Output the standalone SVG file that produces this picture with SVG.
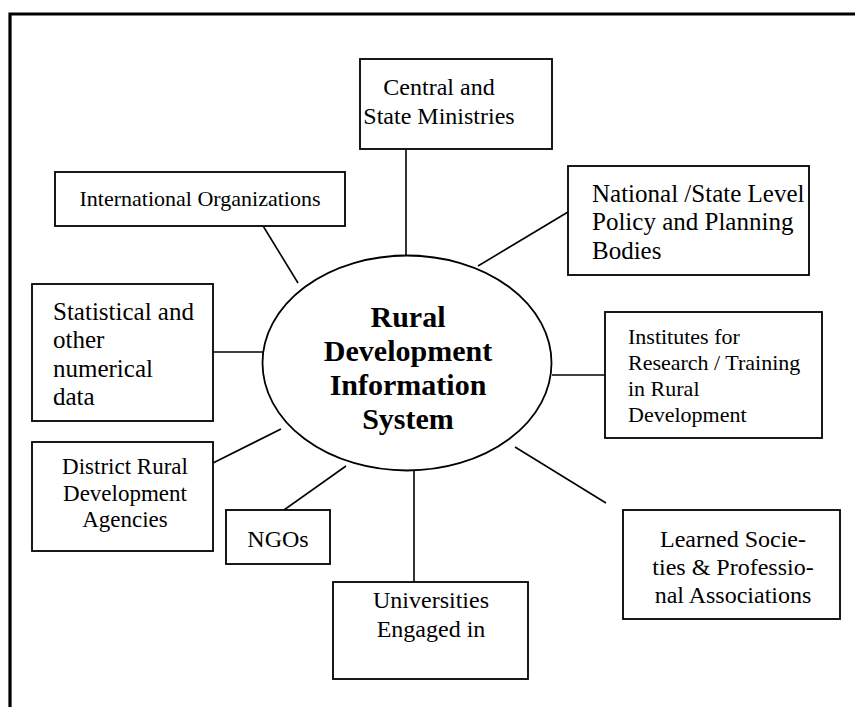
<svg xmlns="http://www.w3.org/2000/svg" width="855" height="707" viewBox="0 0 855 707">
  <defs>
    <style>
      .box { fill: #fff; stroke: #000; stroke-width: 1.8; }
      .link { stroke: #000; stroke-width: 1.6; fill: none; }
    </style>
  </defs>
  <rect x="0" y="0" width="855" height="707" fill="#fff"/>
  <!-- page frame -->
  <polyline points="10,707 10,14 855,14" fill="none" stroke="#000" stroke-width="3.2"/>

  <g id="connectors">
    <line class="link" x1="406" y1="149" x2="406" y2="266"/>
    <line class="link" x1="257" y1="216" x2="298" y2="283"/>
    <line class="link" x1="478" y1="266" x2="568" y2="212"/>
    <line class="link" x1="213" y1="352" x2="267" y2="352"/>
    <line class="link" x1="552" y1="375" x2="605" y2="375"/>
    <line class="link" x1="213" y1="463" x2="281" y2="429"/>
    <line class="link" x1="284" y1="510" x2="346" y2="466"/>
    <line class="link" x1="414" y1="470" x2="414" y2="582"/>
    <line class="link" x1="515" y1="447" x2="606" y2="503"/>
  </g>

  <g id="hub">
    <ellipse cx="407" cy="363" rx="144.5" ry="107.5" fill="#fff" stroke="#000" stroke-width="1.8"/>
    <text style="font-family: 'Liberation Serif', serif; font-weight: bold; font-size: 30px" text-anchor="middle" x="408" y="327">Rural</text>
    <text style="font-family: 'Liberation Serif', serif; font-weight: bold; font-size: 30px" text-anchor="middle" x="408" y="361">Development</text>
    <text style="font-family: 'Liberation Serif', serif; font-weight: bold; font-size: 30px" text-anchor="middle" x="408" y="395">Information</text>
    <text style="font-family: 'Liberation Serif', serif; font-weight: bold; font-size: 30px" text-anchor="middle" x="408" y="429">System</text>
  </g>

  <g id="ministries">
    <rect class="box" x="360" y="59" width="192" height="90"/>
    <text style="font-family: 'Liberation Serif', serif; font-size: 24px" text-anchor="middle" x="439" y="95">Central and</text>
    <text style="font-family: 'Liberation Serif', serif; font-size: 24px" text-anchor="middle" x="439" y="124">State Ministries</text>
  </g>

  <g id="international">
    <rect class="box" x="55" y="172" width="290" height="54"/>
    <text style="font-family: 'Liberation Serif', serif; font-size: 22px" text-anchor="middle" x="200" y="206">International Organizations</text>
  </g>

  <g id="policy">
    <rect class="box" x="568" y="166" width="241" height="109"/>
    <text style="font-family: 'Liberation Serif', serif; font-size: 25px" x="592" y="202">National /State Level</text>
    <text style="font-family: 'Liberation Serif', serif; font-size: 25px" x="592" y="230">Policy and Planning</text>
    <text style="font-family: 'Liberation Serif', serif; font-size: 25px" x="592" y="259">Bodies</text>
  </g>

  <g id="statistical">
    <rect class="box" x="32" y="284" width="181" height="137"/>
    <text style="font-family: 'Liberation Serif', serif; font-size: 25px" x="53" y="320">Statistical and</text>
    <text style="font-family: 'Liberation Serif', serif; font-size: 25px" x="53" y="348">other</text>
    <text style="font-family: 'Liberation Serif', serif; font-size: 25px" x="53" y="377">numerical</text>
    <text style="font-family: 'Liberation Serif', serif; font-size: 25px" x="53" y="405">data</text>
  </g>

  <g id="institutes">
    <rect class="box" x="605" y="312" width="217" height="126"/>
    <text style="font-family: 'Liberation Serif', serif; font-size: 22px" x="628" y="344">Institutes for</text>
    <text style="font-family: 'Liberation Serif', serif; font-size: 22px" x="628" y="370">Research / Training</text>
    <text style="font-family: 'Liberation Serif', serif; font-size: 22px" x="628" y="396">in Rural</text>
    <text style="font-family: 'Liberation Serif', serif; font-size: 22px" x="628" y="422">Development</text>
  </g>

  <g id="district">
    <rect class="box" x="32" y="442" width="181" height="109"/>
    <text style="font-family: 'Liberation Serif', serif; font-size: 23px" text-anchor="middle" x="125" y="474">District Rural</text>
    <text style="font-family: 'Liberation Serif', serif; font-size: 23px" text-anchor="middle" x="125" y="501">Development</text>
    <text style="font-family: 'Liberation Serif', serif; font-size: 23px" text-anchor="middle" x="125" y="527">Agencies</text>
  </g>

  <g id="ngos">
    <rect class="box" x="226" y="510" width="104" height="54"/>
    <text style="font-family: 'Liberation Serif', serif; font-size: 24px" text-anchor="middle" x="278" y="547">NGOs</text>
  </g>

  <g id="universities">
    <rect class="box" x="333" y="582" width="195" height="97"/>
    <text style="font-family: 'Liberation Serif', serif; font-size: 24px" text-anchor="middle" x="431" y="608">Universities</text>
    <text style="font-family: 'Liberation Serif', serif; font-size: 24px" text-anchor="middle" x="431" y="637">Engaged in</text>
  </g>

  <g id="societies">
    <rect class="box" x="623" y="510" width="217" height="109"/>
    <text style="font-family: 'Liberation Serif', serif; font-size: 24px" text-anchor="middle" x="733" y="547">Learned Socie-</text>
    <text style="font-family: 'Liberation Serif', serif; font-size: 24px" text-anchor="middle" x="733" y="575">ties &amp; Professio-</text>
    <text style="font-family: 'Liberation Serif', serif; font-size: 24px" text-anchor="middle" x="733" y="603">nal Associations</text>
  </g>
</svg>
